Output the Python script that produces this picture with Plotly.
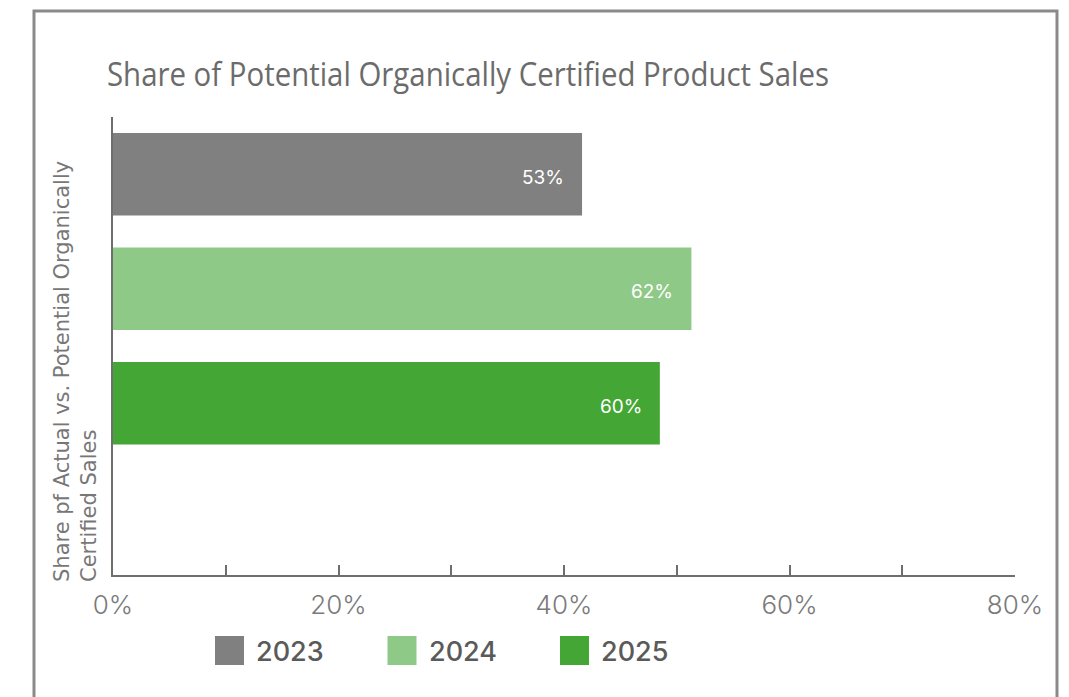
import plotly.graph_objects as go

# ---- data ----
years = ["2023", "2024", "2025"]
bar_values = [0.416, 0.513, 0.485]          # plotted bar lengths (share)
bar_labels = ["53%", "62%", "60%"]          # labels shown on the bars
colors = ["#808080", "#8fc987", "#44a635"]
x_tick_vals = [0, 0.2, 0.4, 0.6, 0.8]
x_tick_text = ["0%", "20%", "40%", "60%", "80%"]
title_text = "Share of Potential Organically Certified Product Sales"
y_title = "Share pf Actual vs. Potential Organically<br>Certified Sales"
slots = years + [" "]                       # four category slots, last one empty

# ---- layout geometry (pixels) ----
WIDTH, HEIGHT = 1069, 697
L, R, T, B = 113, 1015, 117, 575
PW, PH = R - L, B - T


def px(x):
    return (x - L) / PW


def py(y):
    return (B - y) / PH


fig = go.Figure()
for yr, v, c in zip(years, bar_values, colors):
    fig.add_trace(go.Bar(
        x=[v], y=[yr], orientation="h", name=yr,
        marker=dict(color=c, line=dict(width=0)),
        width=0.72, showlegend=False, hoverinfo="skip",
    ))

annotations = []
for i, (v, lab) in enumerate(zip(bar_values, bar_labels)):
    annotations.append(dict(
        x=v, y=i, xref="x", yref="y", text=lab, showarrow=False,
        xanchor="right", yanchor="middle", xshift=-16, yshift=-3,
        font=dict(family="Inter, Roboto, sans-serif", size=19, color="#ffffff"),
    ))

# y-axis title (rotated, bottom aligned)
annotations.append(dict(
    x=px(48), y=py(584), xref="paper", yref="paper", text=y_title,
    showarrow=False, textangle=-90, xanchor="left", yanchor="bottom",
    align="left",
    font=dict(family="DejaVu Sans, sans-serif", size=21, color="#777777"),
))

# manual legend
shapes = []
leg_x0 = 215
leg_step = 172.5
for i, (yr, c) in enumerate(zip(years, colors)):
    sx = leg_x0 + i * leg_step
    shapes.append(dict(
        type="rect", xref="paper", yref="paper",
        x0=px(sx), x1=px(sx + 29), y0=py(665), y1=py(636),
        fillcolor=c, line=dict(width=0),
    ))
    annotations.append(dict(
        x=px(sx + 39), y=py(651), xref="paper", yref="paper", text=yr,
        showarrow=False, xanchor="left", yanchor="middle",
        font=dict(family="Inter, Roboto, sans-serif", size=27,
                  color="#5a5a5a", weight=500),
    ))

# card border
shapes.append(dict(
    type="rect", xref="paper", yref="paper",
    x0=px(34), x1=px(1057), y0=py(740), y1=py(11),
    line=dict(color="#8a8a8a", width=3), fillcolor="rgba(0,0,0,0)",
    layer="below",
))

fig.update_layout(
    width=WIDTH, height=HEIGHT,
    margin=dict(l=L, r=WIDTH - R, t=T, b=HEIGHT - B, pad=0),
    paper_bgcolor="#ffffff", plot_bgcolor="#ffffff",
    barmode="overlay",
    showlegend=False,
    title=dict(
        text=title_text, xref="container", yref="container",
        x=107 / WIDTH, xanchor="left", y=1 - 75 / HEIGHT, yanchor="middle",
        font=dict(family="Open Sans, Noto Sans, sans-serif",
                  size=32, color="#6b6b6b"),
    ),
    xaxis=dict(
        range=[0, 0.8], tickvals=x_tick_vals, ticktext=x_tick_text,
        showgrid=False, zeroline=False,
        showline=True, linecolor="#6e6e6e", linewidth=2,
        ticks="inside", ticklen=10, tickwidth=1.5, tickcolor="#6e6e6e",
        minor=dict(dtick=0.1, ticks="inside", ticklen=10, tickwidth=1.5,
                   tickcolor="#6e6e6e", showgrid=False),
        ticklabelstandoff=6,
        tickfont=dict(family="Inter, Roboto, sans-serif", size=26, color="#7a7a7a",
                      weight=300),
        fixedrange=True,
    ),
    yaxis=dict(
        type="category", categoryorder="array", categoryarray=slots,
        range=[3.5, -0.5], showticklabels=False, ticks="",
        showgrid=False, zeroline=False,
        showline=True, linecolor="#6e6e6e", linewidth=2,
        fixedrange=True,
    ),
    shapes=shapes,
    annotations=annotations,
)

post = """
document.body.style.margin = '0';
var gd = document.getElementById('{plot_id}');
function squeezeTitle() {
  var t = gd.querySelector('.gtitle');
  if (t) { t.setAttribute('textLength', '722'); t.setAttribute('lengthAdjust', 'spacingAndGlyphs'); }
}
squeezeTitle();
gd.on && gd.on('plotly_afterplot', squeezeTitle);
"""

fig.write_html("out.html", post_script=post, config={"displayModeBar": False})
